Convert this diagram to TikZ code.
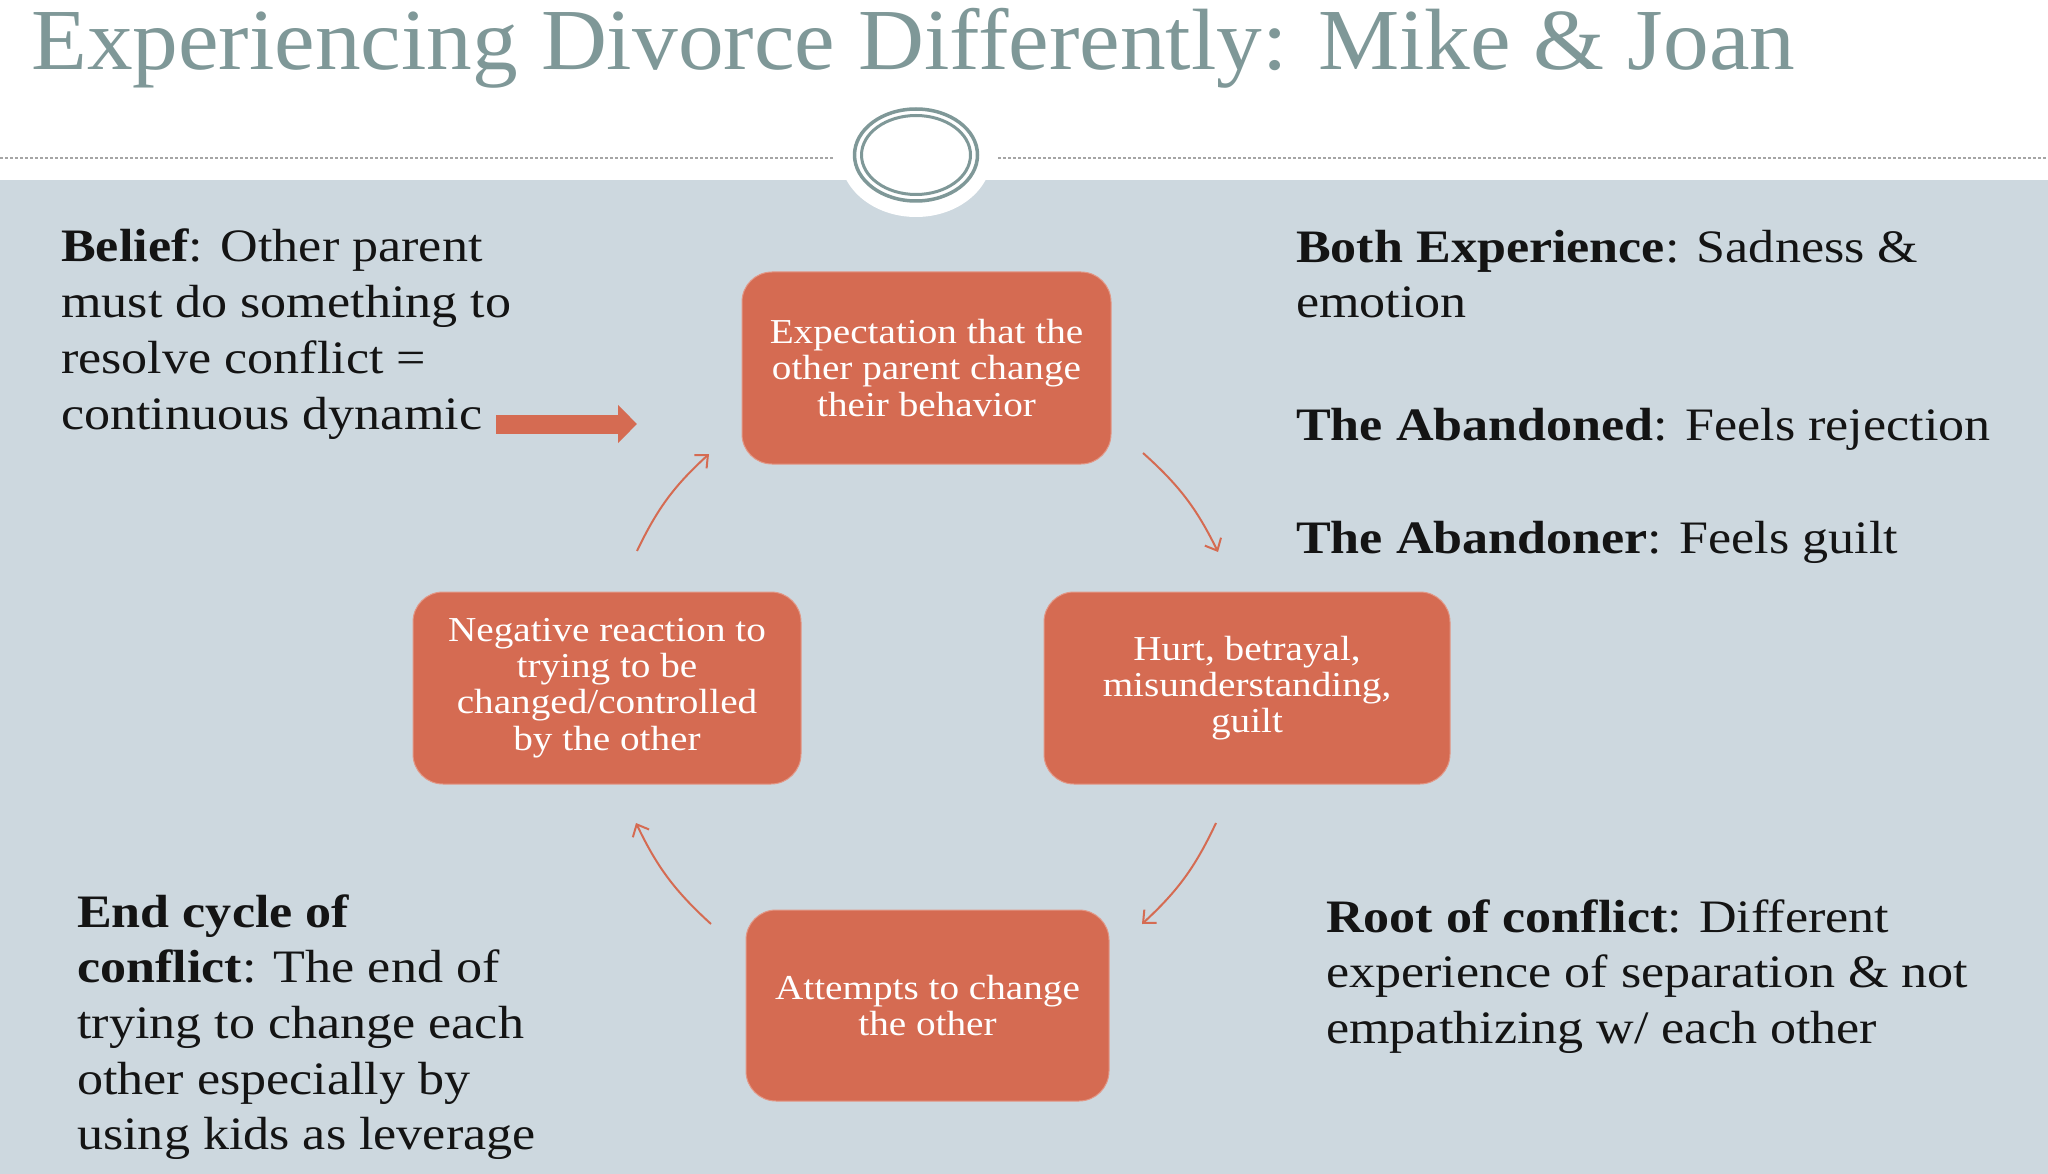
\documentclass[tikz,border=0pt]{standalone}
\usepackage{fontspec}
\setmainfont{Liberation Serif}[FakeStretch=1.12]
\newfontfamily\titlefont{Liberation Serif}[FakeStretch=1.05]
\usetikzlibrary{arrows.meta}
\definecolor{bandcol}{RGB}{205,216,223}
\definecolor{boxor}{RGB}{213,107,82}
\definecolor{ringgray}{RGB}{127,152,152}
\definecolor{txtcol}{RGB}{20,20,20}
\definecolor{dotgray}{RGB}{165,165,165}
\begin{document}
\begin{tikzpicture}[x=1pt,y=-1pt,
  cycbox/.style={rounded corners=30pt, fill=boxor, draw=boxor!70!white, line width=1pt,
    text=white, align=center, font=\fontsize{35}{36.3}\selectfont, inner sep=0pt},
  body/.style={anchor=base west, inner sep=0pt, align=left, text=txtcol,
    font=\fontsize{46.5}{55.7}\selectfont},
  cycarrow/.style={draw=boxor, line width=2pt, -{Straight Barb[length=10pt,width=18pt]}},
  bigarrow/.style={draw=boxor, line width=19pt, -{Triangle[length=19pt,width=37pt]}},
  dotline/.style={draw=dotgray, line width=1.5pt, dash pattern=on 3pt off 2pt}]
\useasboundingbox (0,0) rectangle (2048,1174);
\fill[white] (0,0) rectangle (2048,1174);
\fill[bandcol] (0,180) rectangle (2048,1174);
% header ornament
\coordinate (dl1) at (0,158);
\coordinate (dl2) at (833,158);
\coordinate (dr1) at (998,158);
\coordinate (dr2) at (2048,158);
\draw[dotline] (dl1) -- (dl2);
\draw[dotline] (dr1) -- (dr2);
\fill[white] (916,155) ellipse [x radius=76, y radius=62];
\draw[ringgray, line width=3.5pt] (916,155) ellipse [x radius=61.5, y radius=46];
\draw[ringgray, line width=3pt] (916,155) ellipse [x radius=54.5, y radius=39.5];
% title
\node[anchor=base west, inner sep=0pt, text=ringgray, font=\titlefont\fontsize{87}{90}\selectfont]
  (title) at (31,70) {Experiencing Divorce Differently: Mike \& Joan};
% cycle boxes
\node[cycbox, minimum width=369pt, minimum height=192pt] (expect) at (926.5,368)
  {Expectation that the\\other parent change\\their behavior};
\node[cycbox, minimum width=406pt, minimum height=192pt] (hurt) at (1247,688)
  {Hurt, betrayal,\\misunderstanding,\\guilt};
\node[cycbox, minimum width=363pt, minimum height=191pt] (attempt) at (927.5,1005.5)
  {Attempts to change\\the other};
\node[cycbox, minimum width=388pt, minimum height=192pt] (neg) at (607,688)
  {Negative reaction to\\trying to be\\changed/controlled\\by the other};
% cycle arrows
\coordinate (c1a) at (637,551);  \coordinate (c1b) at (709,454);
\coordinate (c2a) at (1143,453); \coordinate (c2b) at (1218,552);
\coordinate (c3a) at (1216,823); \coordinate (c3b) at (1142,924);
\coordinate (c4a) at (711,924);  \coordinate (c4b) at (636,823);
\draw[cycarrow] (c1a) to[bend left=11] (c1b);
\draw[cycarrow] (c2a) to[bend left=11] (c2b);
\draw[cycarrow] (c3a) to[bend left=11] (c3b);
\draw[cycarrow] (c4a) to[bend left=11] (c4b);
% side texts (anchor = baseline of the last line)
\node[body] (belief) at (61,429)
  {\textbf{Belief}: Other parent\\must do something to\\resolve conflict =\\continuous dynamic};
\coordinate (ba1) at (496,424);
\coordinate (ba2) at (637,424);
\draw[bigarrow] (ba1) -- (ba2);
\node[body] (both) at (1296,318) {\textbf{Both Experience}: Sadness \&\\emotion};
\node[body] (abandoned) at (1296,440) {\textbf{The Abandoned}: Feels rejection};
\node[body] (abandoner) at (1296,553) {\textbf{The Abandoner}: Feels guilt};
\node[body] (root) at (1326,1043.4)
  {\textbf{Root of conflict}: Different\\experience of separation \& not\\empathizing w/ each other};
\node[body] (endc) at (77,1149.8)
  {\textbf{End cycle of}\\\textbf{conflict}: The end of\\trying to change each\\other especially by\\using kids as leverage};
\end{tikzpicture}
\end{document}
